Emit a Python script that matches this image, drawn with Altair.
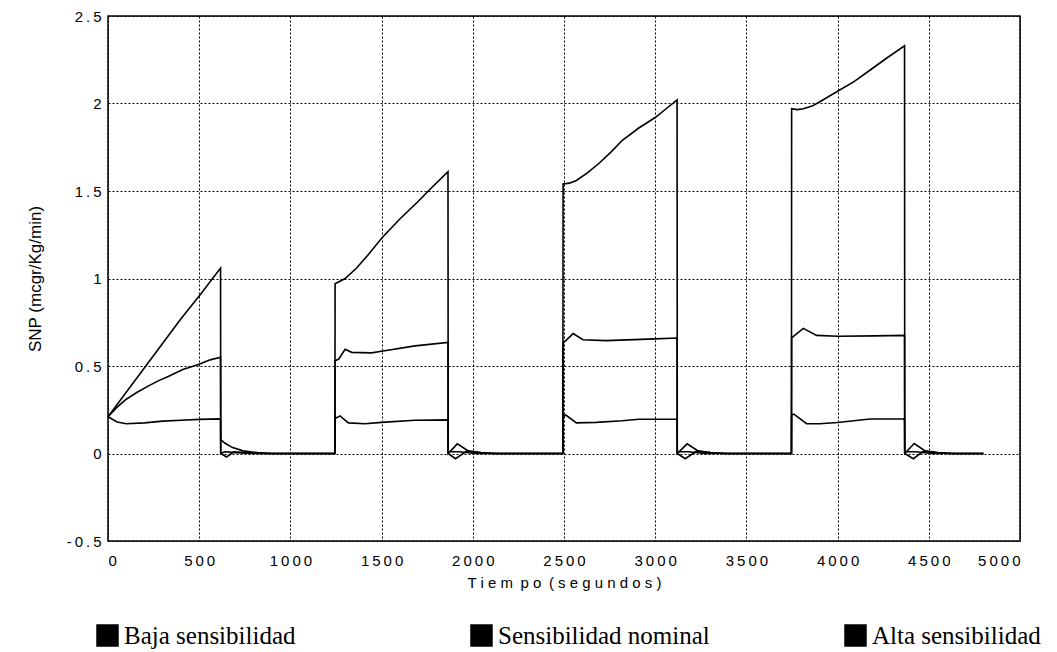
import altair as alt
import pandas as pd

# Series names (legend order)
series_names = ["Baja sensibilidad", "Sensibilidad  nominal", "Alta sensibilidad"]

# Baja sensibilidad: time (s) and SNP rate
t_baja = [0, 100, 200, 300, 400, 500, 617,
          618, 640, 680, 740, 820, 900,
          1244, 1245, 1300, 1363, 1430, 1500, 1600, 1700, 1756, 1864,
          1865, 1915, 1975, 2045, 2135,
          2494, 2495, 2530, 2568, 2630, 2694, 2760, 2820, 2910, 3000, 3060, 3120,
          3121, 3175, 3235, 3305, 3395,
          3747, 3748, 3780, 3812, 3860, 3903, 4000, 4090, 4177, 4270, 4367,
          4368, 4420, 4480, 4550, 4640, 4800]
v_baja = [0.21, 0.35, 0.49, 0.63, 0.77, 0.90, 1.06,
          0.08, 0.06, 0.035, 0.015, 0.005, 0.0,
          0.0, 0.97, 1.0, 1.06, 1.14, 1.23, 1.34, 1.44, 1.50, 1.61,
          0.0, 0.055, 0.015, 0.005, 0.0,
          0.0, 1.54, 1.545, 1.56, 1.605, 1.66, 1.725, 1.79, 1.86, 1.92, 1.97, 2.02,
          0.0, 0.055, 0.015, 0.005, 0.0,
          0.0, 1.97, 1.965, 1.97, 1.985, 2.01, 2.07, 2.125, 2.19, 2.26, 2.33,
          0.0, 0.057, 0.015, 0.005, 0.0, 0.0]

# Sensibilidad nominal
t_nom = [0, 50, 100, 160, 220, 275, 330, 410, 500, 560, 617,
         618, 650, 690, 760, 850,
         1244, 1245, 1265, 1300, 1336, 1445, 1500, 1683, 1864,
         1865, 1905, 1965, 2045, 2115,
         2494, 2495, 2550, 2604, 2730, 3000, 3120,
         3121, 3165, 3225, 3305, 3375,
         3747, 3748, 3812, 3885, 4000, 4200, 4367,
         4368, 4415, 4470, 4550, 4620, 4800]
v_nom = [0.21, 0.265, 0.31, 0.35, 0.385, 0.415, 0.44, 0.48, 0.51, 0.535, 0.55,
         0.0, -0.02, 0.01, 0.005, 0.0,
         0.0, 0.53, 0.54, 0.595, 0.578, 0.575, 0.584, 0.615, 0.635,
         0.0, -0.03, 0.012, 0.004, 0.0,
         0.0, 0.63, 0.685, 0.65, 0.645, 0.655, 0.66,
         0.0, -0.03, 0.012, 0.004, 0.0,
         0.0, 0.66, 0.715, 0.675, 0.67, 0.672, 0.675,
         0.0, -0.03, 0.012, 0.004, 0.0, 0.0]

# Alta sensibilidad
t_alta = [0, 50, 100, 200, 300, 400, 500, 617,
          618, 640, 700, 800,
          1244, 1245, 1272, 1318, 1409, 1500, 1683, 1864,
          1865, 1925, 2015,
          2494, 2495, 2510, 2568, 2676, 2820, 2910, 3120,
          3121, 3181, 3271,
          3747, 3748, 3760, 3830, 3900, 4000, 4177, 4367,
          4368, 4428, 4518, 4800]
v_alta = [0.21, 0.18, 0.17, 0.175, 0.185, 0.19, 0.195, 0.198,
          0.0, 0.01, 0.005, 0.0,
          0.0, 0.20, 0.215, 0.175, 0.17, 0.178, 0.19, 0.192,
          0.01, 0.01, 0.0,
          0.0, 0.21, 0.22, 0.175, 0.178, 0.187, 0.196, 0.196,
          0.01, 0.01, 0.0,
          0.0, 0.22, 0.225, 0.17, 0.17, 0.177, 0.197, 0.197,
          0.01, 0.01, 0.0, 0.0]

rows = []
for name, ts, vs in zip(series_names, [t_baja, t_nom, t_alta], [v_baja, v_nom, v_alta]):
    for i, (t, v) in enumerate(zip(ts, vs)):
        rows.append({"serie": name, "t": t, "snp": v, "orden": i})
df = pd.DataFrame(rows)

# Letter-spaced strings, as in the printed axes
EN = "\u2002"
x_title = " ".join("Tiem") + EN + " ".join("po") + EN + " ".join("(segundos)")
x_labels = "join(split(format(datum.value, 'd'), ''), '\u2009')"
y_labels = "join(split(replace(format(datum.value, '.1~f'), '\u2212', '-'), ''), '\u2009')"

chart = alt.Chart(df).mark_line(color="black", strokeWidth=1.6).encode(
    x=alt.X("t:Q",
            scale=alt.Scale(domain=[0, 5000], nice=False, zero=False),
            axis=alt.Axis(values=list(range(0, 5001, 500)), title=x_title,
                          labelExpr=x_labels, labelPadding=12, titlePadding=7)),
    y=alt.Y("snp:Q",
            scale=alt.Scale(domain=[-0.5, 2.5], nice=False, zero=False),
            axis=alt.Axis(values=[-0.5, 0, 0.5, 1, 1.5, 2, 2.5],
                          title="SNP (mcgr/Kg/min)", labelExpr=y_labels,
                          labelPadding=7, titlePadding=22, titleFontSize=17)),
    color=alt.Color("serie:N",
                    scale=alt.Scale(domain=series_names, range=["black", "black", "black"]),
                    legend=alt.Legend(title=None, orient="none", legendX=-13, legendY=607,
                                      direction="horizontal", columns=3, gridAlign="all",
                                      columnPadding=125, symbolType="square", symbolSize=440,
                                      symbolFillColor="black", symbolStrokeColor="black",
                                      labelFont="Liberation Serif", labelFontSize=25,
                                      labelColor="black", labelOffset=4, labelLimit=400)),
    detail="serie:N",
    order="orden:Q",
).properties(
    width=912,
    height=525,
    autosize=alt.AutoSizeParams(type="none"),
    padding={"left": 108, "top": 16, "right": 37, "bottom": 111},
).configure(
    background="white"
).configure_view(
    stroke="black", strokeWidth=1.5
).configure_axis(
    grid=True, gridColor="black", gridDash=[2, 2], gridWidth=1, gridOpacity=1,
    domain=False, ticks=False,
    labelFont="Liberation Sans", labelFontSize=15, labelColor="black",
    titleFont="Liberation Sans", titleFontSize=15, titleFontWeight="normal", titleColor="black",
)

chart.save("out.html", embed_options={"renderer": "svg", "actions": False})
